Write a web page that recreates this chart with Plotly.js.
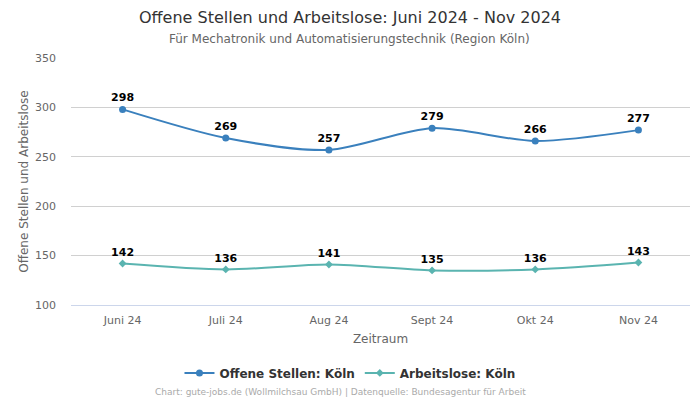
<!DOCTYPE html>
<html><head><meta charset="utf-8">
<script src="https://cdn.plot.ly/plotly-3.0.1.min.js"></script>
<style>body{margin:0;padding:0;}#chart{width:700px;height:400px;}</style>
</head><body><div id="chart"></div>
<script>
var categories = ["Juni 24", "Juli 24", "Aug 24", "Sept 24", "Okt 24", "Nov 24"];
var offeneStellen = [298, 269, 257, 279, 266, 277];
var arbeitslose = [142, 136, 141, 135, 136, 143];
var seriesNames = ["Offene Stellen: Köln", "Arbeitslose: Köln"];
var yTicks = [100, 150, 200, 250, 300, 350];

var font = "DejaVu Sans, sans-serif";
var traces = [
  {x: categories, y: offeneStellen, name: seriesNames[0], type: "scatter", mode: "lines+markers+text",
   line: {color: "#3a80bd", width: 2, shape: "spline", smoothing: 0.8},
   marker: {color: "#3a80bd", size: 7, symbol: "circle"},
   text: offeneStellen.map(String), textposition: "top center",
   textfont: {family: font, size: 11, color: "#000", weight: "bold"}, cliponaxis: false},
  {x: categories, y: arbeitslose, name: seriesNames[1], type: "scatter", mode: "lines+markers+text",
   line: {color: "#5ab4b0", width: 2, shape: "spline", smoothing: 0.8},
   marker: {color: "#5ab4b0", size: 6, symbol: "diamond"},
   text: arbeitslose.map(String), textposition: "top center",
   textfont: {family: font, size: 11, color: "#000", weight: "bold"}, cliponaxis: false}
];
var layout = {
  width: 700, height: 400,
  margin: {l: 71, r: 10, t: 58, b: 95},
  paper_bgcolor: "#fff", plot_bgcolor: "#fff",
  font: {family: font, color: "#666"},
  title: {text: "Offene Stellen und Arbeitslose: Juni 2024 - Nov 2024", xref: "container", x: 0.5, xanchor: "center",
          yref: "container", y: 0.9575, yanchor: "middle",
          font: {family: font, size: 16, color: "#333"}},
  xaxis: {type: "category", range: [-0.5, 5.5], showgrid: false, zeroline: false, showline: true, linecolor: "#ccd6eb", linewidth: 1,
          ticks: "", ticklabelstandoff: 5, tickfont: {family: font, size: 11, color: "#666"},
          title: {text: "Zeitraum", font: {family: font, size: 12, color: "#666"}, standoff: 8}},
  yaxis: {range: [100, 350], tickvals: yTicks, ticktext: yTicks.map(String), showgrid: true, gridcolor: "#d0d0d0",
          zeroline: false, showline: false, ticks: "", tickfont: {family: font, size: 11, color: "#666"},
          ticklabelstandoff: 14,
          title: {text: "Offene Stellen und Arbeitslose", font: {family: font, size: 12, color: "#666"}, standoff: 3}},
  legend: {orientation: "h", x: 0.4507, xanchor: "center", y: -0.275, yanchor: "middle",
           font: {family: font, size: 12, color: "#333", weight: "bold"}},
  showlegend: true,
  annotations: [
    {text: "Für Mechatronik und Automatisierungstechnik (Region Köln)", xref: "paper", yref: "paper", x: 0.4507, xanchor: "center",
     y: 1, yshift: 19, yanchor: "middle", showarrow: false, font: {family: font, size: 12, color: "#666"}},
    {text: "Chart: gute-jobs.de (Wollmilchsau GmbH) | Datenquelle: Bundesagentur für Arbeit", xref: "paper", yref: "paper",
     x: 0.4346, xanchor: "center", y: 0, yshift: -87, yanchor: "middle", showarrow: false, font: {family: font, size: 9, color: "#aaa"}}
  ]
};
Plotly.newPlot("chart", traces, layout, {displayModeBar: false, staticPlot: true});
</script></body></html>
